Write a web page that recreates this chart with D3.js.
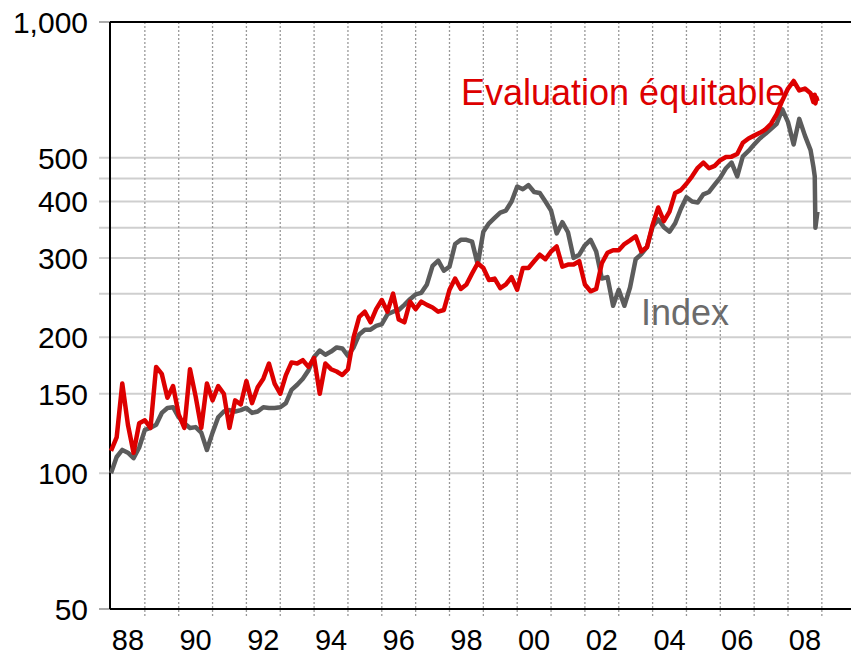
<!DOCTYPE html>
<html>
<head>
<meta charset="utf-8">
<script src="https://cdn.jsdelivr.net/npm/d3@7"></script>
<style>
  body { margin: 0; background: #fff; }
  text { font-family: "Liberation Sans", Arial, sans-serif; }
</style>
</head>
<body>
<div id="chart"></div>
<script>
// bi-monthly points from Jan 1988, plus a few extra points for the Oct 2008 crash
var dates = d3.range(125).map(function(k) { return 1988 + k / 6; })
    .concat([2008.75, 2008.79, 2008.81, 2008.84, 2008.87]);

var index_values = [
    100, 108.6, 112.6, 111, 108, 114, 124.7, 126, 128, 136,
    139.5, 140, 133, 129, 126, 126.5, 123, 112.6, 123, 133,
    137, 138, 137, 138, 139.5, 136, 137, 140, 139.5, 139.5,
    140, 143, 153, 157, 162, 169, 181, 187, 183, 186,
    190, 189, 182, 190, 203, 208, 208, 212, 214, 225,
    228, 230, 236, 243, 249, 251, 262, 288, 296, 281,
    287, 322, 329, 329, 326, 290, 343, 358, 368, 378,
    382, 400, 432, 426, 435, 420, 418, 400, 382, 340,
    360, 342, 300, 305, 320, 329, 310, 270, 272, 235,
    255, 235, 258, 298, 306, 317, 352, 365, 351, 343,
    358, 385, 409, 400, 398, 415, 420, 436, 452, 474,
    488, 455, 504, 518, 535, 552, 565, 580, 595, 640,
    600, 535, 610, 560, 520,
    478, 455, 350, 365, 380
];

var fair_values = [
    112, 120, 158, 128, 111, 129, 131, 126, 172, 166,
    147, 156, 135, 126, 170, 148, 126, 158, 145, 156,
    150, 126, 145, 142, 160, 143, 155, 162, 175, 158,
    150, 165, 176, 175, 178, 172, 180, 150, 175, 170,
    168, 165, 170, 200, 222, 228, 216, 231, 242, 228,
    250, 219, 216, 240, 231, 240, 236, 233, 228, 230,
    255, 270, 256, 262, 277, 292, 285, 268, 270, 257,
    262, 272, 255, 285, 285, 295, 305, 298, 310, 318,
    287, 290, 290, 295, 262, 253, 256, 292, 308, 312,
    312, 322, 328, 335, 310, 317, 355, 388, 362, 380,
    418, 424, 438, 455, 475, 488, 474, 480, 494, 502,
    503, 510, 540, 552, 560, 568, 578, 595, 625, 670,
    712, 740, 705, 712, 695,
    665, 690, 660, 680, 668
];

var y_ticks = [50, 100, 150, 200, 300, 400, 500, 1000];
var y_grid = [100, 150, 200, 250, 300, 350, 400, 450, 500];
var x_labels = ["88", "90", "92", "94", "96", "98", "00", "02", "04", "06", "08"];

var width = 851, height = 656;
var left = 110, top_y = 22, bottom_y = 609;

var svg = d3.select("#chart")
    .append("svg")
    .attr("width", width)
    .attr("height", height);

var x = d3.scaleLinear().domain([1988, 2010]).range([111, 855.7]);
var y = d3.scaleLog().domain([50, 1000]).range([bottom_y, top_y]);

// horizontal grid lines
svg.selectAll(".hgrid")
    .data(y_grid)
    .enter().append("line")
    .attr("class", "hgrid")
    .attr("x1", 99).attr("x2", width)
    .attr("y1", function(d) { return y(d); })
    .attr("y2", function(d) { return y(d); })
    .attr("stroke", "#cfcfcf")
    .attr("stroke-width", 2);

// small gray ticks at 50 and 1000
svg.selectAll(".edgetick")
    .data([50, 1000])
    .enter().append("line")
    .attr("x1", 99).attr("x2", left)
    .attr("y1", function(d) { return y(d); })
    .attr("y2", function(d) { return y(d); })
    .attr("stroke", "#aaa")
    .attr("stroke-width", 2);

// yearly dotted lines
svg.selectAll(".vgrid")
    .data(d3.range(1989, 2010))
    .enter().append("line")
    .attr("class", "vgrid")
    .attr("x1", function(d) { return x(d); })
    .attr("x2", function(d) { return x(d); })
    .attr("y1", top_y).attr("y2", bottom_y + 7)
    .attr("stroke", "#999")
    .attr("stroke-width", 1.3)
    .attr("stroke-dasharray", "2,2");

// frame: top, left, bottom
svg.append("line").attr("x1", left).attr("x2", width).attr("y1", top_y).attr("y2", top_y)
    .attr("stroke", "#000").attr("stroke-width", 2);
svg.append("line").attr("x1", left).attr("x2", width).attr("y1", bottom_y).attr("y2", bottom_y)
    .attr("stroke", "#000").attr("stroke-width", 2);
svg.append("line").attr("x1", left).attr("x2", left).attr("y1", top_y).attr("y2", bottom_y)
    .attr("stroke", "#000").attr("stroke-width", 2);

// y labels
svg.selectAll(".ylabel")
    .data(y_ticks)
    .enter().append("text")
    .attr("x", 88)
    .attr("y", function(d) { return y(d); })
    .attr("dy", "0.36em")
    .style("text-anchor", "end")
    .style("font-size", "30px")
    .text(function(d) { return d3.format(",")(d); });

// x labels, centred in their year
svg.selectAll(".xlabel")
    .data(x_labels)
    .enter().append("text")
    .attr("x", function(d, i) { return x(1988 + 2 * i + 0.5); })
    .attr("y", 650)
    .style("text-anchor", "middle")
    .style("font-size", "29px")
    .text(function(d) { return d; });

// series labels
svg.append("text")
    .attr("x", 461).attr("y", 105)
    .style("font-size", "36px")
    .attr("fill", "#dd0000")
    .text("Evaluation équitable");

svg.append("text")
    .attr("x", 641).attr("y", 325)
    .style("font-size", "36px")
    .attr("fill", "#6b6b6b")
    .text("Index");

var line_index = d3.line()
    .x(function(d, i) { return x(dates[i]); })
    .y(function(d) { return y(d); });

svg.append("path")
    .datum(index_values)
    .attr("d", line_index)
    .attr("fill", "none")
    .attr("stroke", "#5c5c5c")
    .attr("stroke-width", 4.5)
    .attr("stroke-linejoin", "round");

svg.append("path")
    .datum(fair_values)
    .attr("d", line_index)
    .attr("fill", "none")
    .attr("stroke", "#dd0000")
    .attr("stroke-width", 4.5)
    .attr("stroke-linejoin", "round");
</script>
</body>
</html>
